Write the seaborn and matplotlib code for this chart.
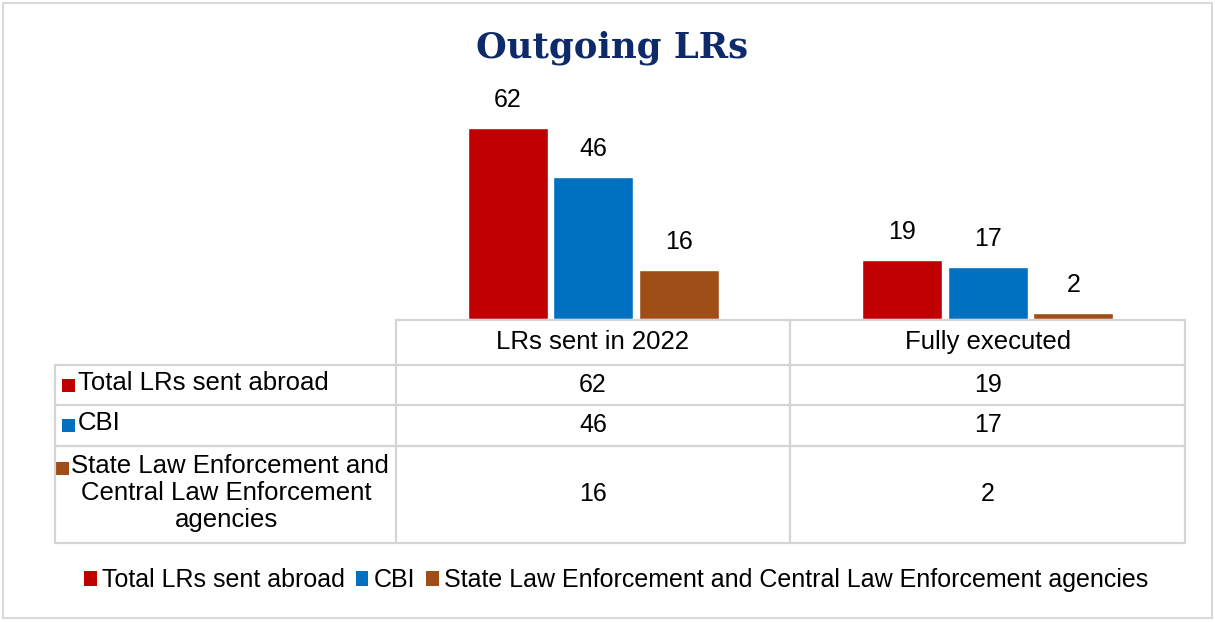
import matplotlib
matplotlib.use("Agg")
import matplotlib.pyplot as plt
from matplotlib.patches import Rectangle, Patch
from matplotlib.lines import Line2D
import seaborn as sns
import pandas as pd

categories = ["LRs sent in 2022", "Fully executed"]
series_names = ["Total LRs sent abroad", "CBI",
                "State Law Enforcement and Central Law Enforcement agencies"]
total_vals = [62, 19]
cbi_vals = [46, 17]
state_vals = [16, 2]
row_labels = ["Total LRs sent abroad", "CBI",
              "State Law Enforcement and\nCentral Law Enforcement\nagencies"]
colors = ["#C00000", "#0070C0", "#9E4E16"]
title = "Outgoing LRs"

sns.set_theme(style="white")
plt.rcParams['font.family'] = ['Liberation Sans', 'DejaVu Sans']
plt.rcParams['text.color'] = 'black'

W, H = 1215, 622
fig = plt.figure(figsize=(W / 100, H / 100), dpi=100)

FS = 18.5
NFS = 18

def fx(px):
    return px / W

def fy(py):
    return 1 - py / H

# axes area in pixel coords
ax_l, ax_r, ax_t, ax_b = 396, 1185, 85, 319
ax = fig.add_axes([fx(ax_l), fy(ax_b), fx(ax_r) - fx(ax_l), fy(ax_t) - fy(ax_b)])

df = pd.DataFrame({
    "category": categories * 3,
    "series": [series_names[0]] * 2 + [series_names[1]] * 2 + [series_names[2]] * 2,
    "value": total_vals + cbi_vals + state_vals,
})
sns.barplot(data=df, x="category", y="value", hue="series", hue_order=series_names,
            order=categories, palette=colors, width=0.65, gap=0.06, ax=ax,
            saturation=1, legend=False, errorbar=None)
ax.set_xlim(-0.5, 1.5)
ax.set_ylim(0, (ax_b - ax_t) / (191 / 62))
for c in ax.containers:
    ax.bar_label(c, padding=11.5, fontsize=NFS, color="#000000")
for s in ax.spines.values():
    s.set_visible(False)
ax.set_xticks([])
ax.set_yticks([])
ax.set_xlabel("")
ax.set_ylabel("")
ax.patch.set_alpha(0)

# title
fig.text(fx(612), fy(48), title, ha="center", va="center", fontsize=25.5,
         fontweight="bold", family=["DejaVu Serif"], color="#0E2A68")

# table grid
gc = "#D4D4D4"
lw = 1.6
def hline(y, x0, x1):
    fig.add_artist(Line2D([fx(x0), fx(x1)], [fy(y), fy(y)], color=gc, lw=lw))
def vline(x, y0, y1):
    fig.add_artist(Line2D([fx(x), fx(x)], [fy(y0), fy(y1)], color=gc, lw=lw))

hline(320, 396, 1185)
for y in [365, 405, 446, 543]:
    hline(y, 55, 1185)
for x in [396, 790, 1185]:
    vline(x, 320, 543)
vline(55, 365, 543)

col_centers = [593, 988]
for cx, cat in zip(col_centers, categories):
    fig.text(fx(cx), fy(342), cat, ha="center", va="center", fontsize=FS)

row_centers = [385, 425, 494]
values = [total_vals, cbi_vals, state_vals]
for r, (cy, vals) in enumerate(zip(row_centers, values)):
    for cx, v in zip(col_centers, vals):
        fig.text(fx(cx), fy(cy), str(v), ha="center", va="center", fontsize=NFS)

sq = 13
def square(x, ycenter, color):
    fig.add_artist(Rectangle((fx(x), fy(ycenter + sq / 2)), fx(sq), sq / H,
                             facecolor=color, edgecolor="none"))

# row labels
fig.text(fx(78), fy(383), row_labels[0], ha="left", va="center", fontsize=FS)
square(62, 385, colors[0])
fig.text(fx(78), fy(423), row_labels[1], ha="left", va="center", fontsize=FS)
square(62, 425, colors[1])
lines = row_labels[2].split("\n")
fig.canvas.draw()
renderer = fig.canvas.get_renderer()
line_y = [466, 493, 520]
t1 = fig.text(fx(230), fy(line_y[0]), lines[0], ha="center", va="center", fontsize=FS)
bb = t1.get_window_extent(renderer)
square(bb.x0 - 15, line_y[0] + 2, colors[2])
for ln, yy in zip(lines[1:], line_y[1:]):
    fig.text(fx(226), fy(yy), ln, ha="center", va="center", fontsize=FS)

# legend
handles = [Patch(facecolor=c, edgecolor="none") for c in colors]
fig.legend(handles, series_names, loc="center", bbox_to_anchor=(fx(616), fy(580)),
           ncol=3, frameon=False, fontsize=18, handlelength=0.5, handleheight=0.55,
           handletextpad=0.2, columnspacing=0.45)

# outer border
fig.add_artist(Rectangle((fx(3), fy(618)), fx(1209), 615 / H, facecolor="none",
                         edgecolor="#D9D9D9", lw=1.5))

fig.savefig("out.png", dpi=100)
